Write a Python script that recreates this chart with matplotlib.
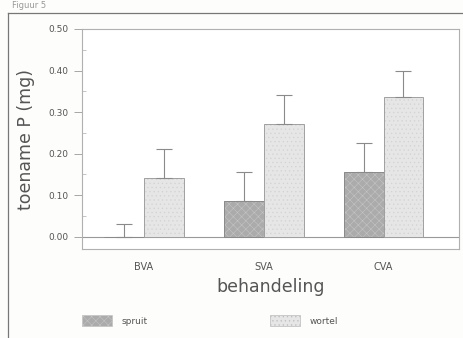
import numpy as np
import matplotlib.pyplot as plt
from matplotlib.patches import Rectangle
from matplotlib.lines import Line2D

categories = ["BVA", "SVA", "CVA"]
spruit = [0.0, 0.085, 0.155]
spruit_err = [0.03, 0.07, 0.07]
wortel = [0.14, 0.27, 0.335]
wortel_err = [0.07, 0.07, 0.065]
yticks = [0.0, 0.1, 0.2, 0.3, 0.4, 0.5]

txt = "#555555"
edge = "#8a8a8a"
plt.rcParams["hatch.linewidth"] = 0.4

fig = plt.figure(figsize=(4.64, 3.38), dpi=100)
fig.patch.set_facecolor("#fdfdfb")

# outer frame of the scanned figure
fig.add_artist(Line2D([8/464, 1], [1 - 13/338, 1 - 13/338], color="#777777", lw=0.9))
fig.add_artist(Line2D([8/464, 8/464], [0, 1 - 13/338], color="#777777", lw=0.9))
fig.text(12/464, 1 - 1/338, "Figuur 5", fontsize=6, color="#999999", va="top")

ax = fig.add_axes([82/464, 1 - 249/338, 377/464, 220/338])
ax.set_facecolor("white")

x = np.arange(len(categories))
w = 0.333
# fill with soft texture, then outline
ax.bar(x - w/2, spruit, w, color="#ababab", edgecolor="#c4c4c4", lw=0, hatch="xxxx", zorder=2)
ax.bar(x + w/2, wortel, w, color="#e6e6e6", edgecolor="#d2d2d2", lw=0, hatch="....", zorder=2)
ax.bar(x - w/2, spruit, w, color="none", edgecolor=edge, lw=0.7, zorder=2.5)
ax.bar(x + w/2, wortel, w, color="none", edgecolor="#a0a0a0", lw=0.7, zorder=2.5)
ax.errorbar(x - w/2, spruit, yerr=[np.zeros(3), spruit_err], fmt="none", ecolor=edge,
            elinewidth=0.8, capsize=6, capthick=0.8, zorder=3)
ax.errorbar(x + w/2, wortel, yerr=[np.zeros(3), wortel_err], fmt="none", ecolor=edge,
            elinewidth=0.8, capsize=6, capthick=0.8, zorder=3)
ax.axhline(0, color="#999999", lw=0.8, zorder=1)

ax.set_xlim(-0.517, 2.63)
ax.set_ylim(-0.03, 0.50)
ax.set_yticks(yticks)
ax.set_yticklabels([f"{v:.2f}" for v in yticks])
ax.set_yticks(np.arange(0.05, 0.5, 0.1), minor=True)
ax.tick_params(axis="y", which="major", direction="out", length=6, width=0.6,
               color="#999999", labelsize=6.5, labelcolor=txt, pad=4)
ax.tick_params(axis="y", which="minor", direction="in", length=3, width=0.6, color="#bbbbbb")
ax.set_xticks(x)
ax.set_xticklabels(categories)
ax.tick_params(axis="x", length=0, labelsize=7, labelcolor=txt, pad=9)
for s in ax.spines.values():
    s.set_color("#b0b0b0")
    s.set_linewidth(0.8)

ax.set_ylabel("toename P (mg)", fontsize=12.5, color=txt, labelpad=9)
ax.set_xlabel("behandeling", fontsize=12.5, color=txt, labelpad=5)

# legend
fig.add_artist(Rectangle((82/464, 1 - 326/338), 30/464, 11/338, transform=fig.transFigure,
                         facecolor="#ababab", edgecolor="#c4c4c4", hatch="xxxx", lw=0.5))
fig.text(122/464, 1 - 321/338, "spruit", fontsize=6.5, color=txt, va="center")
fig.add_artist(Rectangle((270/464, 1 - 326/338), 30/464, 11/338, transform=fig.transFigure,
                         facecolor="#e6e6e6", edgecolor="#bbbbbb", hatch="....", lw=0.5))
fig.text(310/464, 1 - 321/338, "wortel", fontsize=6.5, color=txt, va="center")

fig.savefig("out.png", dpi=100)
